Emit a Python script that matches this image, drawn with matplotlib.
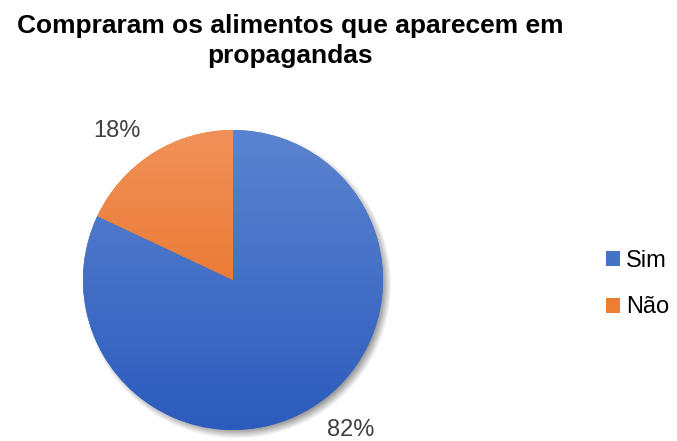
import numpy as np
import matplotlib
matplotlib.use("Agg")
import matplotlib.pyplot as plt
from matplotlib.patches import Patch

plt.rcParams['font.family'] = ['Liberation Sans', 'DejaVu Sans']

labels = ["Sim", "Não"]
values = [82, 18]
pct_labels = ["82%", "18%"]
# colour at top / bottom of the pie for each slice
top_colors = ["#5B84D0", "#F1915A"]
bottom_colors = ["#2C5BBD", "#E46614"]
mid_colors = ["#4472C4", "#ED7D31"]

fig = plt.figure(figsize=(6.77, 4.41), dpi=100)
fig.patch.set_facecolor("white")

# pie centred at (233, 280) px, radius 150 px
W, H = 677, 441
cx, cy, r = 233, 280, 150
ax = fig.add_axes([(cx - r) / W, (H - cy - r) / H, 2 * r / W, 2 * r / H])
ax.axis("off")

wedges, _ = ax.pie(values, startangle=90, counterclock=False, radius=1,
                   colors=mid_colors, wedgeprops=dict(linewidth=0))
ax.set_xlim(-1, 1)
ax.set_ylim(-1, 1)
ax.set_aspect("equal")

# soft drop shadow down and to the right
n = 400
ext = 1.25
xs = np.linspace(-ext, ext, n)
X, Y = np.meshgrid(xs, xs)
d = np.hypot(X - 0.02, Y + 0.03)
alpha = np.clip((1.03 - d) / 0.07, 0, 1) * 0.45
shadow = np.zeros((n, n, 4))
shadow[..., 3] = alpha
sh = ax.imshow(shadow, extent=[-ext, ext, -ext, ext], origin="lower", zorder=0,
               interpolation="bilinear")
sh.set_clip_on(False)

# vertical gradient fill clipped to each wedge
t = np.linspace(0, 1, 256)[:, None]
for w, c_top, c_bot in zip(wedges, top_colors, bottom_colors):
    ct = np.array(matplotlib.colors.to_rgb(c_top))
    cb = np.array(matplotlib.colors.to_rgb(c_bot))
    grad = cb[None, None, :] * (1 - t[..., None]) + ct[None, None, :] * t[..., None]
    grad = np.repeat(grad, 2, axis=1)
    im = ax.imshow(grad, extent=[-1, 1, -1, 1], origin="lower", zorder=2,
                   interpolation="bilinear", aspect="auto")
    im.set_clip_path(w)

ax.set_xlim(-1, 1)
ax.set_ylim(-1, 1)

# percentage labels outside the pie
ax.text(0.787, -1.0, pct_labels[0], ha="center", va="center", fontsize=17,
        color="#404040", zorder=5, clip_on=False)
ax.text(-0.777, 0.993, pct_labels[1], ha="center", va="center", fontsize=17,
        color="#404040", zorder=5, clip_on=False)

fig.text(290 / W, 1 - 14 / H, "Compraram os alimentos que aparecem em\npropagandas",
         ha="center", va="top", fontsize=19, fontweight="bold", color="black",
         linespacing=1.33)

handles = [Patch(facecolor=c, edgecolor="none") for c in mid_colors]
fig.legend(handles, labels, loc="center left", bbox_to_anchor=(606 / W, 1 - 284 / H),
           frameon=False, fontsize=17, handlelength=0.6, handleheight=0.6,
           handletextpad=0.25, labelspacing=1.05, borderpad=0, borderaxespad=0)

fig.savefig("out.png", dpi=100, facecolor="white")
